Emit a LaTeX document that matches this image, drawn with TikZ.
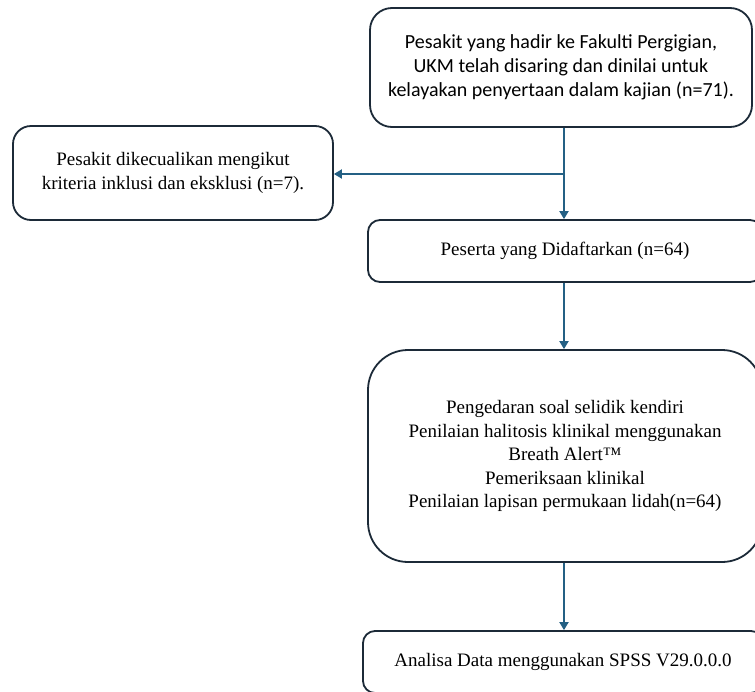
\documentclass[tikz,border=0pt]{standalone}
\usepackage{fontspec}
\setmainfont{Liberation Serif}
\newfontfamily\aptos{Carlito}
\usetikzlibrary{arrows.meta}
\definecolor{boxline}{RGB}{28,42,56}
\definecolor{arrowc}{RGB}{36,96,132}
\begin{document}
\begin{tikzpicture}[x=1pt,y=-1pt,
  box/.style={draw=boxline, line width=1.8pt, fill=white, align=center, inner sep=0pt},
  serif/.style={font=\fontsize{19}{23.5}\selectfont},
  sans/.style={font=\aptos\fontsize{20}{24}\selectfont},
  conn/.style={draw=arrowc, line width=1.8pt, -{Triangle[length=8pt,width=9pt]}},
  plain/.style={draw=arrowc, line width=1.8pt}]
\useasboundingbox (0,0) rectangle (755,691);
\clip (0,0) rectangle (755,691);
\fill[white] (0,0) rectangle (755,691);
\node[box, sans, rounded corners=22pt, minimum width=382pt, minimum height=119pt] (b1) at (561,67.5)
  {Pesakit yang hadir ke Fakulti Pergigian,\\UKM telah disaring dan dinilai untuk\\kelayakan penyertaan dalam kajian (n=71).};
\node[box, serif, rounded corners=18pt, minimum width=320pt, minimum height=94pt] (b2) at (173,173)
  {Pesakit dikecualikan mengikut\\kriteria inklusi dan eksklusi (n=7).};
\node[box, serif, rounded corners=12pt, minimum width=394pt, minimum height=62pt] (b3) at (565,251)
  {Peserta yang Didaftarkan (n=64)};
\node[box, serif, rounded corners=40pt, minimum width=394pt, minimum height=212pt] (b4) at (565,456)
  {Pengedaran soal selidik kendiri\\Penilaian halitosis klinikal menggunakan\\Breath Alert™\\Pemeriksaan klinikal\\Penilaian lapisan permukaan lidah(n=64)};
\node[box, serif, rounded corners=12pt, minimum width=400pt, minimum height=62pt] (b5) at (563,662)
  {Analisa Data menggunakan SPSS V29.0.0.0};
\coordinate (split) at (564,174);
\draw[plain] (b1.south -| split) -- (split);
\draw[conn] (split) -- (b3.north -| split);
\draw[conn] (split) -- (b2.east |- split);
\draw[conn] (b3.south -| split) -- (b4.north -| split);
\draw[conn] (b4.south -| split) -- (b5.north -| split);
\end{tikzpicture}
\end{document}
